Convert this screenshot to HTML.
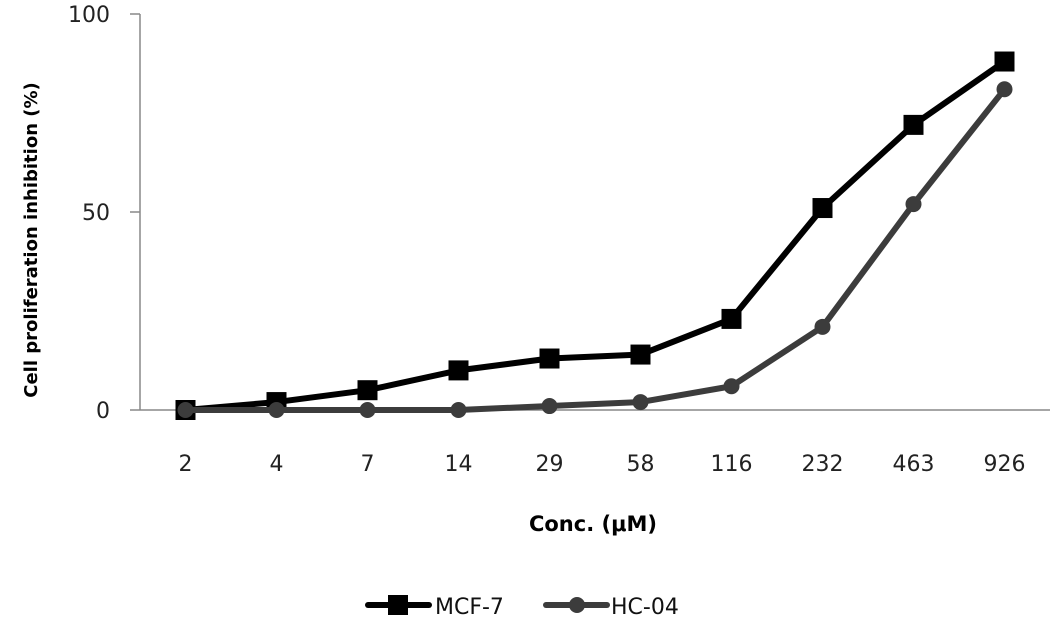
<!DOCTYPE html>
<html><head><meta charset="utf-8"><style>
html,body{margin:0;padding:0;background:#fff;width:1063px;height:620px;overflow:hidden}
svg{display:block;font-family:"DejaVu Sans","Liberation Sans",sans-serif}
</style></head><body>
<svg id="chart" width="1063" height="620">
<g id="axes"></g>
<g id="series"></g>
<text x="593" y="531" text-anchor="middle" font-size="21" font-weight="bold" fill="#000">Conc. (μM)</text>
<text transform="translate(37,240) rotate(-90)" text-anchor="middle" font-size="18" font-weight="bold" fill="#000">Cell proliferation inhibition (%)</text>
<g>
<g>
<line x1="368" y1="605" x2="429" y2="605" stroke="#000" stroke-width="6" stroke-linecap="round"/>
<rect x="388" y="595" width="20" height="20" fill="#000"/>
<text x="435" y="614" font-size="22" fill="#111">MCF-7</text></g>
<g>
<line x1="546" y1="605" x2="607" y2="605" stroke="#3c3c3c" stroke-width="6" stroke-linecap="round"/>
<circle cx="577" cy="605" r="8" fill="#3c3c3c"/>
<text x="611" y="614" font-size="22" fill="#111">HC-04</text></g>
</g>
</svg>
<script>
const categories=["2","4","7","14","29","58","116","232","463","926"];
const mcf7=[0,2,5,10,13,14,23,51,72,88];
const hc04=[0,0,0,0,1,2,6,21,52,81];
const yTicks=[0,50,100];
const NS="http://www.w3.org/2000/svg";
const x0=140,x1=1050,yTop=14,yBot=410;
const band=(x1-x0)/categories.length;
const xs=i=>x0+band*(i+0.5);
const ys=v=>yBot-(v/100)*(yBot-yTop);
function mk(tag,attrs,parent){const e=document.createElementNS(NS,tag);for(const k in attrs)e.setAttribute(k,attrs[k]);parent.appendChild(e);return e;}
const axes=document.getElementById('axes'),ser=document.getElementById('series');
let yl=mk('line',{x1:x0,y1:yTop,x2:x0,y2:yBot,stroke:'#888','stroke-width':1.5},axes);


let xl=mk('line',{x1:x0,y1:yBot,x2:x1,y2:yBot,stroke:'#888','stroke-width':1.5},axes);


yTicks.forEach(v=>{
 mk('line',{x1:x0-10,y1:ys(v),x2:x0,y2:ys(v),stroke:'#888','stroke-width':1.5},axes);
 const t=mk('text',{x:x0-30,y:ys(v)+8,'text-anchor':'end','font-size':22,fill:'#222'},axes);
 t.textContent=v;
 
 
});
categories.forEach((c,i)=>{
 const t=mk('text',{x:xs(i),y:471,'text-anchor':'middle','font-size':22,fill:'#222'},axes);
 t.textContent=c;
 
 
});
function draw(vals,color,name,marker){
 const p=mk('polyline',{points:vals.map((v,i)=>xs(i)+','+ys(v)).join(' '),fill:'none',stroke:color,'stroke-width':6,'stroke-linejoin':'round'},ser);
 
 
 vals.forEach((v,i)=>{
  let m;
  if(marker==='sq') m=mk('rect',{x:xs(i)-10,y:ys(v)-10,width:20,height:20,fill:color},ser);
  else m=mk('circle',{cx:xs(i),cy:ys(v),r:8,fill:color},ser);
  
  
 });
}
draw(mcf7,'#000','mcf7','sq');
draw(hc04,'#3c3c3c','hc04','ci');
</script>
</body></html>
